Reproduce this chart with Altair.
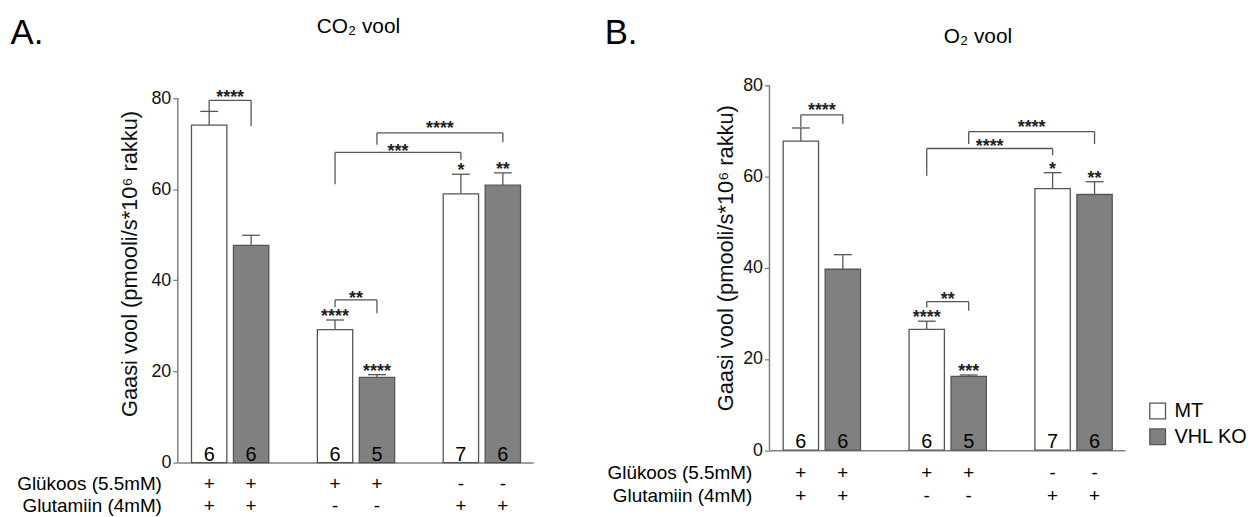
import altair as alt
import pandas as pd

# ---------------- data ----------------
conditions = ["Glükoos + Glutamiin", "Glükoos", "Glutamiin"]
glucose_signs = ["+", "+", "-"]
glutamine_signs = ["+", "-", "+"]
genotypes = ["MT", "VHL KO"]

n_mt = [6, 6, 7]
n_ko = [6, 5, 6]

co2_mt = [74.1, 29.2, 59.0]
co2_mt_sem = [3.0, 2.1, 4.3]
co2_ko = [47.7, 18.7, 60.9]
co2_ko_sem = [2.2, 0.6, 2.7]
co2_mt_stars = ["", "****", "*"]
co2_ko_stars = ["", "****", "**"]

o2_mt = [67.8, 26.5, 57.4]
o2_mt_sem = [2.9, 1.8, 3.5]
o2_ko = [39.7, 16.2, 56.1]
o2_ko_sem = [3.2, 0.3, 2.8]
o2_mt_stars = ["", "****", "*"]
o2_ko_stars = ["", "***", "**"]

# brackets: (from condition, from genotype, to condition, to genotype)
bracket_pairs = [(0, 0, 0, 1), (1, 0, 2, 0), (1, 1, 2, 1), (1, 0, 1, 1)]

co2_br_level = [79.5, 68.1, 72.4, 35.7]
co2_br_left_end = [77.1, 61.1, 69.8, 34.1]
co2_br_right_end = [73.9, 66.5, 70.4, 32.8]
co2_br_text = ["****", "***", "****", "**"]
co2_br_text_y = [81.1, 69.3, 74.3, 37.1]

o2_br_level = [73.6, 66.2, 69.9, 32.6]
o2_br_left_end = [70.9, 60.2, 67.2, 31.3]
o2_br_right_end = [71.5, 64.7, 67.2, 30.6]
o2_br_text = ["****", "****", "****", "**"]
o2_br_text_y = [75.4, 67.6, 71.7, 34.0]

y_ticks = [0, 20, 40, 60, 80]
y_title = "Gaasi vool (pmooli/s*10\u2076 rakku)"

FONT = "Liberation Sans"
LINE = "#555555"
AXIS = "#808080"
W, H = 358, 380


def slot(g, k):
    return 3 * g + k


def make_panel(mt, mt_sem, ko, ko_sem, mt_stars, ko_stars,
               br_level, br_left, br_right, br_text, br_text_y,
               y_domain, x_axis_offset, title, title_x, title_y,
               letter, letter_x, ytitle_x, ytitle_y, row_x, row_y1, row_y2,
               show_legend, anchor=False):
    rows = []
    for g in range(3):
        for k, (vals, sems, stars, ns) in enumerate(
            [(mt, mt_sem, mt_stars, n_mt), (ko, ko_sem, ko_stars, n_ko)]
        ):
            rows.append(dict(
                xi=slot(g, k), genotype=genotypes[k], condition=conditions[g],
                mean=vals[g], top=vals[g] + sems[g], n=str(ns[g]),
                star=stars[g], glc=glucose_signs[g], gln=glutamine_signs[g],
                zero=0,
            ))
    bars = pd.DataFrame(rows)

    segs, labs = [], []
    for i, (g1, k1, g2, k2) in enumerate(bracket_pairs):
        xa, xb = slot(g1, k1), slot(g2, k2)
        segs.append(dict(x=xa, x2=xb, y=br_level[i], y2=br_level[i]))
        segs.append(dict(x=xa, x2=xa, y=br_level[i], y2=br_left[i]))
        segs.append(dict(x=xb, x2=xb, y=br_level[i], y2=br_right[i]))
        labs.append(dict(x=(xa + xb) / 2, y=br_text_y[i], text=br_text[i]))
    segs = pd.DataFrame(segs)
    labs = pd.DataFrame(labs)

    xs = alt.Scale(domain=[-0.63, 7.605], nice=False, zero=False)
    ys = alt.Scale(domain=y_domain, nice=False, zero=False)
    xax = alt.Axis(labels=False, ticks=False, grid=False, title=None,
                   domainColor=AXIS, domainWidth=1.5, offset=x_axis_offset)
    yax = alt.Axis(values=y_ticks, domain=False, grid=False, tickSize=5,
                   tickColor=AXIS, tickWidth=1.3, labelFontSize=18,
                   labelFont=FONT, labelColor="#111111", labelPadding=2,
                   title=y_title, titleFont=FONT, titleFontSize=22,
                   titleFontWeight="normal", titleColor="#111111",
                   titleAngle=270, titleX=ytitle_x, titleY=ytitle_y,
                   titleAlign="center", titleBaseline="middle")

    def X(f):
        return alt.X(f, scale=xs, axis=xax)

    def Y(f):
        return alt.Y(f, scale=ys, axis=yax)

    base = alt.Chart(bars)

    legend = None
    if show_legend:
        legend = alt.Legend(
            title=None, orient="none", legendX=381, legendY=318,
            symbolType="square", symbolSize=250, symbolStrokeColor=LINE,
            symbolStrokeWidth=1.3, symbolOpacity=1, labelFontSize=20,
            labelFont=FONT, labelColor="black", rowPadding=4, labelOffset=7,
            padding=0,
        )

    bar = base.mark_bar(size=35.6, stroke=LINE, strokeWidth=1.3).encode(
        x=X("xi:Q"), y=Y("mean:Q"),
        fill=alt.Fill("genotype:N", scale=alt.Scale(
            domain=genotypes, range=["#ffffff", "#808080"]), legend=legend),
    )

    yaxis_line = alt.Chart(alt.Data(values=[{"a": 0, "b": 80}])).mark_rule(
        color=AXIS, strokeWidth=1.5).encode(
        x=alt.value(0), y=Y("a:Q"), y2=alt.Y2("b:Q"))

    err = base.mark_rule(color=LINE, strokeWidth=1.3).encode(
        x=X("xi:Q"), y=Y("mean:Q"), y2="top:Q")
    cap = base.mark_tick(orient="horizontal", size=18, thickness=1.3,
                         color=LINE, opacity=1).encode(
        x=X("xi:Q"), y=Y("top:Q"))

    nlab = base.mark_text(
        fontSize=20, font=FONT, color="black", baseline="alphabetic", dy=-2
    ).encode(x=X("xi:Q"), y=Y("zero:Q"), text="n:N")

    stars = base.mark_text(fontSize=18, font=FONT, fontWeight="bold",
                           color="#222222", baseline="alphabetic", dy=2
    ).encode(x=X("xi:Q"), y=Y("top:Q"), text="star:N")

    brk = alt.Chart(segs).mark_rule(color=LINE, strokeWidth=1.3).encode(
        x=X("x:Q"), x2="x2:Q", y=Y("y:Q"), y2="y2:Q")
    brk_txt = alt.Chart(labs).mark_text(
        fontSize=18, font=FONT, fontWeight="bold", color="#222222",
        baseline="alphabetic", dy=10).encode(
        x=X("x:Q"), y=Y("y:Q"), text="text:N")

    sign1 = base.mark_text(fontSize=19, font=FONT, color="black",
                           baseline="middle").encode(
        x=X("xi:Q"), y=alt.value(row_y1), text="glc:N")
    sign2 = base.mark_text(fontSize=19, font=FONT, color="black",
                           baseline="middle").encode(
        x=X("xi:Q"), y=alt.value(row_y2), text="gln:N")

    one = alt.Chart(alt.Data(values=[{"k": 1}]))
    row1 = one.mark_text(fontSize=19, font=FONT, color="black", align="right",
                         baseline="middle").encode(
        x=alt.value(row_x), y=alt.value(row_y1), text=alt.value("Glükoos (5.5mM)"))
    row2 = one.mark_text(fontSize=19, font=FONT, color="black", align="right",
                         baseline="middle").encode(
        x=alt.value(row_x), y=alt.value(row_y2), text=alt.value("Glutamiin (4mM)"))
    ttl = one.mark_text(fontSize=21, font=FONT, color="black", align="center",
                        baseline="alphabetic").encode(
        x=alt.value(title_x), y=alt.value(title_y), text=alt.value(title))
    let = one.mark_text(fontSize=35, font=FONT, color="black",
                        align="left", baseline="alphabetic").encode(
        x=alt.value(letter_x), y=alt.value(-42), text=alt.value(letter))

    layers = [bar, yaxis_line, err, cap, nlab, stars, brk, brk_txt,
              sign1, sign2, row1, row2, ttl, let]
    if anchor:
        layers.append(one.mark_rule(color="white", strokeWidth=0.01).encode(
            x=alt.value(-170), x2=alt.value(-170),
            y=alt.value(-75), y2=alt.value(-75)))
    return alt.layer(*layers).properties(width=W, height=H)


panel_a = make_panel(
    co2_mt, co2_mt_sem, co2_ko, co2_ko_sem, co2_mt_stars, co2_ko_stars,
    co2_br_level, co2_br_left_end, co2_br_right_end, co2_br_text, co2_br_text_y,
    y_domain=[0, 82.83], x_axis_offset=0, title="CO\u2082 vool",
    title_x=182, title_y=-53, letter="A.", letter_x=-168.5,
    ytitle_x=-48.5, ytitle_y=179.5, row_x=-16, row_y1=402, row_y2=423.7,
    show_legend=False, anchor=True)

panel_b = make_panel(
    o2_mt, o2_mt_sem, o2_ko, o2_ko_sem, o2_mt_stars, o2_ko_stars,
    o2_br_level, o2_br_left_end, o2_br_right_end, o2_br_text, o2_br_text_y,
    y_domain=[-2.72, 80.07], x_axis_offset=-12.5, title="O\u2082 vool",
    title_x=210, title_y=-43, letter="B.", letter_x=-166,
    ytitle_x=-44.5, ytitle_y=173.7, row_x=-17.4, row_y1=390.5, row_y2=413.7,
    show_legend=True)

chart = alt.hconcat(panel_a, panel_b, spacing=238, bounds="flush").resolve_scale(
    fill="independent", x="independent", y="independent"
).properties(padding=0).configure(
    font=FONT, view=alt.ViewConfig(stroke=None))

chart.save("out.html", embed_options={"renderer": "svg", "actions": False})
